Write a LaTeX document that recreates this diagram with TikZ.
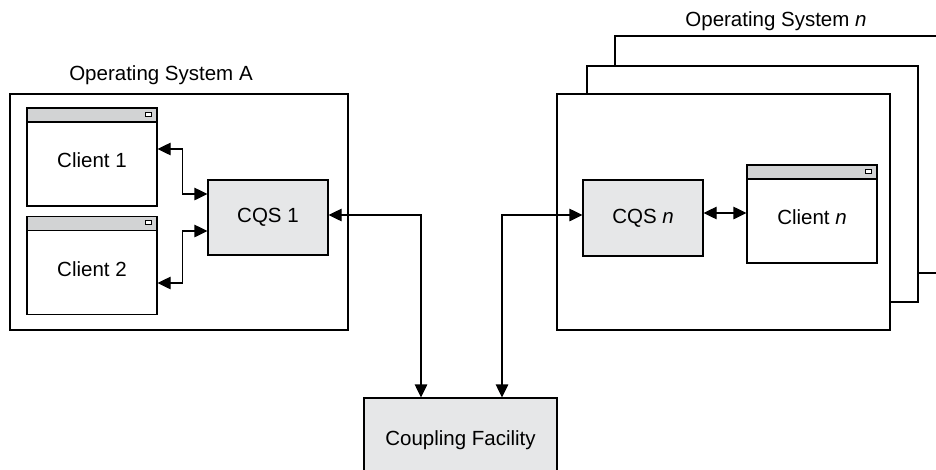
\documentclass[tikz,border=0pt]{standalone}
\usepackage{fontspec}
\setmainfont{Liberation Sans}
\usetikzlibrary{calc, positioning}
\usetikzlibrary{arrows.meta}
\definecolor{cqsgray}{RGB}{230,231,232}
\definecolor{bargray}{RGB}{210,211,212}
\tikzset{
  font=\fontsize{20.5}{24}\selectfont,
  % Set arrowhead
  >={Triangle[length=13pt, width=12.5pt]},
  % Operating system frame
  osbox/.style={draw, fill=white, line width=1.2pt},
  % Queue server
  cqs/.style={draw, fill=cqsgray, line width=1.2pt, minimum width=120pt,
    minimum height=76pt, inner sep=0pt},
  % Client window with title bar
  client/.style={draw, fill=white, line width=1.2pt, minimum width=130pt,
    minimum height=98pt, inner sep=0pt, text height=21pt, text depth=0pt,
    path picture={
      \fill[bargray] (path picture bounding box.north west) rectangle
      ([yshift=-14pt]path picture bounding box.north east);
      \draw[line width=1.2pt] ([yshift=-14pt]path picture bounding box.north west) --
      ([yshift=-14pt]path picture bounding box.north east);
      \draw[fill=white, line width=0.9pt]
      ([xshift=-12pt, yshift=-4pt]path picture bounding box.north east)
      rectangle ++(6pt,-4pt);
    }},
  % Coupling facility
  cfnode/.style={cqs, minimum width=193pt, minimum height=84pt},
  % Connectors
  link/.style={<->, line width=1.2pt},
}

\begin{document}
\begin{tikzpicture}[x=1pt, y=-1pt]
  \useasboundingbox (0,0) rectangle (936,469);

  % Operating System A
  \node[osbox, minimum width=338pt, minimum height=236pt] (osA) at (179,212) {};
  \node (osAlabel) at (161,75) {Operating System A};
  \node[client] (client1) at (92,157) {Client 1};
  \node[client] (client2) at (92,265.5) {Client 2};
  \node[cqs, minimum height=75pt] (cqs1) at (268,217.5) {CQS 1};

  \draw[link] ([yshift=8pt]client1.east) -- ++(25,0) |- ([yshift=23.5pt]cqs1.west);
  \draw[link] ([yshift=-17.5pt]client2.east) -- ++(25,0) |- ([yshift=-13.5pt]cqs1.west);

  % Operating System n (stacked)
  \node[osbox, minimum width=345pt, minimum height=237pt] (osn3) at (787.5,154.5) {};
  \node[osbox, minimum width=331pt, minimum height=236pt] (osn2) at (752.5,184) {};
  \node[osbox, minimum width=333pt, minimum height=236pt] (osn) at (723.5,212) {};
  \node (osnlabel) at (776,21) {Operating System \textit{n}};
  \node[cqs] (cqsn) at (643,218) {CQS \textit{n}};
  \node[client] (clientn) at (812,214) {Client \textit{n}};

  \draw[link] ([yshift=5pt]cqsn.east) -- ([yshift=5pt]cqsn.east -| clientn.west);

  % Coupling Facility
  \node[cfnode] (cf) at (460.5,440) {Coupling Facility};

  \draw[link] ([yshift=2.5pt]cqs1.east) -| ([xshift=-39.5pt]cf.north);
  \draw[link] ([xshift=41.5pt]cf.north) |- ([yshift=3pt]cqsn.west);
\end{tikzpicture}
\end{document}
